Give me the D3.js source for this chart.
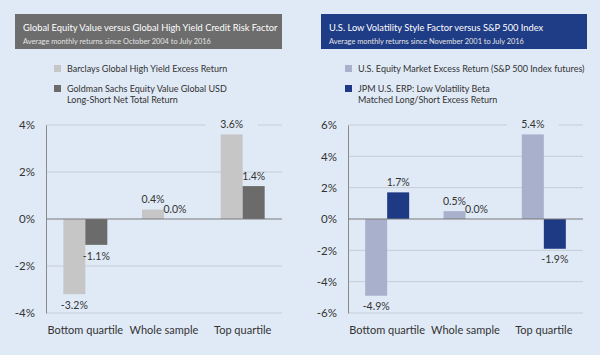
<!DOCTYPE html>
<html><head><meta charset="utf-8">
<script src="https://cdn.jsdelivr.net/npm/d3@7"></script>
<style>
html,body{margin:0;padding:0;background:#e0eaf6;}
svg{display:block;font-family:Lato, "Open Sans", sans-serif;}
</style></head>
<body><svg id="c" width="600" height="355"></svg>
<script>
const categories = ["Bottom quartile", "Whole sample", "Top quartile"];

const leftTitle = "Global Equity Value versus Global High Yield Credit Risk Factor";
const leftSubtitle = "Average monthly returns since October 2004 to July 2016";
const leftSeriesNames = [["Barclays Global High Yield Excess Return"], ["Goldman Sachs Equity Value Global USD", "Long-Short Net Total Return"]];
const leftSeriesA = [-3.2, 0.4, 3.6];
const leftSeriesB = [-1.1, 0.0, 1.4];
const leftTicks = [-4, -2, 0, 2, 4];

const rightTitle = "U.S. Low Volatility Style Factor versus S&P 500 Index";
const rightSubtitle = "Average monthly returns since November 2001 to July 2016";
const rightSeriesNames = [["U.S. Equity Market Excess Return (S&P 500 Index futures)"], ["JPM U.S. ERP: Low Volatility Beta", "Matched Long/Short Excess Return"]];
const rightSeriesA = [-4.9, 0.5, 5.4];
const rightSeriesB = [1.7, 0.0, -1.9];
const rightTicks = [-6, -4, -2, 0, 2, 4, 6];

const svg = d3.select("#c");
const BG = "#e0eaf6";

function panel(cfg) {
  const g = svg.append("g");
  // header
  g.append("rect").attr("x", cfg.hx0).attr("y", 14).attr("width", cfg.hx1 - cfg.hx0).attr("height", 35).attr("fill", cfg.headFill);
  g.append("text").attr("x", cfg.hx0 + 8).attr("y", 31).attr("fill", "#fff").attr("font-size", 9.3).text(cfg.title);
  g.append("text").attr("x", cfg.hx0 + 8).attr("y", 43.5).attr("fill", "#e2e2e2").attr("font-size", 7.4).text(cfg.subtitle);
  // legend
  const ly = [72, 92];
  cfg.names.forEach((lines, i) => {
    g.append("rect").attr("x", cfg.lx).attr("y", ly[i] - 7).attr("width", 7).attr("height", 7).attr("fill", cfg.colors[i]);
    lines.forEach((t, j) => {
      g.append("text").attr("x", cfg.lx + 13).attr("y", ly[i] + j * 10.5).attr("fill", "#333").attr("font-size", 9).text(t);
    });
  });
  // scales
  const y = d3.scaleLinear().domain(cfg.domain).range([313, 125]);
  const x0 = d3.scaleBand().domain(categories).range([cfg.px0, cfg.px1]).paddingInner(0).paddingOuter(0);
  const x1 = d3.scaleBand().domain([0, 1]).range([x0.bandwidth() / 2 - 22, x0.bandwidth() / 2 + 22]);
  // grid
  g.append("g").selectAll("line").data(cfg.ticks.filter(t => t !== 0)).join("line")
    .attr("x1", cfg.px0).attr("x2", cfg.px1).attr("y1", d => y(d)).attr("y2", d => y(d))
    .attr("stroke", "#c4ccd6").attr("stroke-width", 1);
  // y axis
  const ya = g.append("g").attr("transform", `translate(${cfg.px0},0)`)
    .call(d3.axisLeft(y).tickValues(cfg.ticks).tickSize(0).tickPadding(11).tickFormat(d => d + "%"));
  ya.select(".domain").attr("stroke", "#8a8a8a");
  ya.selectAll("text").attr("font-size", 11.5).attr("fill", "#333").attr("font-family", "Lato, 'Open Sans', sans-serif");
  // data
  const series = [cfg.a, cfg.b];
  const barData = [];
  categories.forEach((c, i) => series.forEach((s, k) => barData.push({ c, k, v: s[i] })));
  const cxOf = d => x0(d.c) + x1(d.k) + x1.bandwidth() / 2;
  const cyOf = d => d.v >= 0 ? y(d.v) - 10 : y(d.v) + 11;
  // label backgrounds (break gridlines behind labels)
  g.append("g").selectAll("rect").data(barData).join("rect")
    .attr("x", d => cxOf(d) - 26).attr("y", d => cyOf(d) - 3).attr("width", 52).attr("height", 6).attr("fill", BG);
  // bars
  g.append("g").selectAll("rect").data(barData).join("rect")
    .attr("x", d => x0(d.c) + x1(d.k)).attr("width", x1.bandwidth())
    .attr("y", d => y(Math.max(0, d.v))).attr("height", d => Math.abs(y(d.v) - y(0)))
    .attr("fill", d => cfg.colors[d.k]);
  // zero line
  g.append("line").attr("x1", cfg.px0).attr("x2", cfg.px1).attr("y1", y(0)).attr("y2", y(0)).attr("stroke", "#7a7a7a").attr("stroke-width", 1.2);
  // value labels
  g.append("g").selectAll("text").data(barData).join("text")
    .attr("x", cxOf).attr("y", cyOf).attr("text-anchor", "middle").attr("dy", "0.35em").attr("font-size", 10.5).attr("fill", "#333")
    .text(d => d.v.toFixed(1) + "%");
  // category labels
  g.append("g").selectAll("text").data(categories).join("text")
    .attr("x", d => x0(d) + x0.bandwidth() / 2).attr("y", 334).attr("text-anchor", "middle")
    .attr("font-size", 11).attr("fill", "#333").text(d => d);
}

panel({ hx0: 15, hx1: 282, headFill: "#6d6d6d", title: leftTitle, subtitle: leftSubtitle, names: leftSeriesNames,
  lx: 54, colors: ["#c6c6c6", "#6b6b6b"], domain: [-4, 4], ticks: leftTicks, a: leftSeriesA, b: leftSeriesB, px0: 46, px1: 282 });
panel({ hx0: 321, hx1: 587, headFill: "#1f3c86", title: rightTitle, subtitle: rightSubtitle, names: rightSeriesNames,
  lx: 345, colors: ["#a9b0cb", "#1e3a84"], domain: [-6, 6], ticks: rightTicks, a: rightSeriesA, b: rightSeriesB, px0: 348, px1: 583 });
</script></body></html>
